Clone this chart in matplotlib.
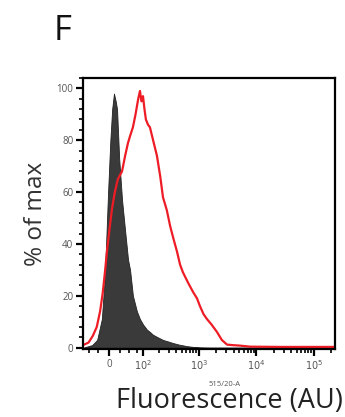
import numpy as np
import matplotlib
matplotlib.use('Agg')
import matplotlib.pyplot as plt
import matplotlib.ticker as ticker

# fluorescence values (AU) and % of max
ctrl_x = [-68, -40, -27, -16, -9, -2, 3, 7, 11, 15, 18, 23, 30, 38, 46, 52, 61,
          75, 87, 100, 119, 137, 155, 190, 235, 290, 354, 450, 623, 800, 1045,
          1500, 3000, 20000, 231000]
ctrl_y = [0, 1, 3, 11, 28, 60, 80, 92, 98, 95, 92, 73, 57, 45, 34, 30, 20,
          14, 11, 9, 7, 6, 5, 4, 3, 2.4, 1.8, 1.2, 0.6, 0.3, 0.1,
          0, 0, 0, 0]

red_x = [-68, -50, -38, -28, -20, -14, -9, -4, 2, 7, 13, 20, 30, 38, 46, 53, 61,
         70, 80, 87, 93, 100, 107, 114, 125, 136, 160, 183, 210, 235, 275, 314,
         360, 416, 470, 529, 650, 791, 928, 1045, 1200, 1385, 1650, 2070, 2500,
         3080, 3800, 5190, 7740, 25700, 85000, 231000]
red_y = [1, 2, 4.6, 8, 14, 21, 29, 38, 47, 54, 60, 65, 68, 74, 79, 82, 85,
         90, 96, 99, 95, 97, 92, 88, 86, 85, 79, 74, 66, 58, 53, 47,
         42, 37, 32, 29, 25, 21.5, 19, 16, 13, 11, 9, 6, 3,
         1.2, 1, 0.8, 0.4, 0.3, 0.3, 0.3]

y_ticks = [0, 20, 40, 60, 80, 100]
x_ticks = [0, 1e2, 1e3, 1e4, 1e5]
x_tick_labels = ['0', r'$10^2$', r'$10^3$', r'$10^4$', r'$10^5$']

W = 55.0


def fwd(x):
    return np.arcsinh(np.asarray(x) / W)


def inv(u):
    return W * np.sinh(np.asarray(u))


plt.rcParams['font.family'] = ['Open Sans', 'DejaVu Sans']

fig = plt.figure(figsize=(3.45, 4.17), dpi=100)
ax = fig.add_axes([83 / 345, 68 / 417, 252 / 345, 271 / 417])
ax.set_xscale('function', functions=(fwd, inv))

ax.fill_between(ctrl_x, ctrl_y, 0, color='#3a3a3a', lw=0.6, edgecolor='#222222')
ax.plot(red_x, red_y, color='#ee1c25', lw=1.6)

ax.set_xlim(-68, 231000)
ax.set_ylim(-0.5, 104)

ax.set_yticks(y_ticks)
ax.yaxis.set_minor_locator(ticker.MultipleLocator(4))
ax.set_xticks(x_ticks)
ax.set_xticklabels(x_tick_labels)
minor_x = [-50, -25, 25, 50, 75]
for d in [1e2, 1e3, 1e4]:
    minor_x += [d * k for k in range(2, 10)]
minor_x += [2e5]
ax.set_xticks(minor_x, minor=True)

for s in ax.spines.values():
    s.set_linewidth(1.6)
    s.set_color('black')

ax.tick_params(which='major', direction='out', length=5, width=1.6,
               labelsize=7, labelcolor='#555555', pad=2)
ax.tick_params(which='minor', direction='out', length=3, width=1.2)

ax.set_ylabel('% of max', fontsize=17.5, color='#333333', labelpad=6)

fig.text(225 / 345, 1 - 386 / 417, '515/20-A', fontsize=5.5, color='#555555',
         ha='center', va='baseline')
fig.text(0.664, 0.0216, 'Fluorescence (AU)', fontsize=19.5, color='#222222',
         ha='center', va='baseline')
fig.text(0.154, 0.904, 'F', fontsize=25, color='#111111', ha='left', va='baseline')

fig.savefig('out.png', dpi=100)
